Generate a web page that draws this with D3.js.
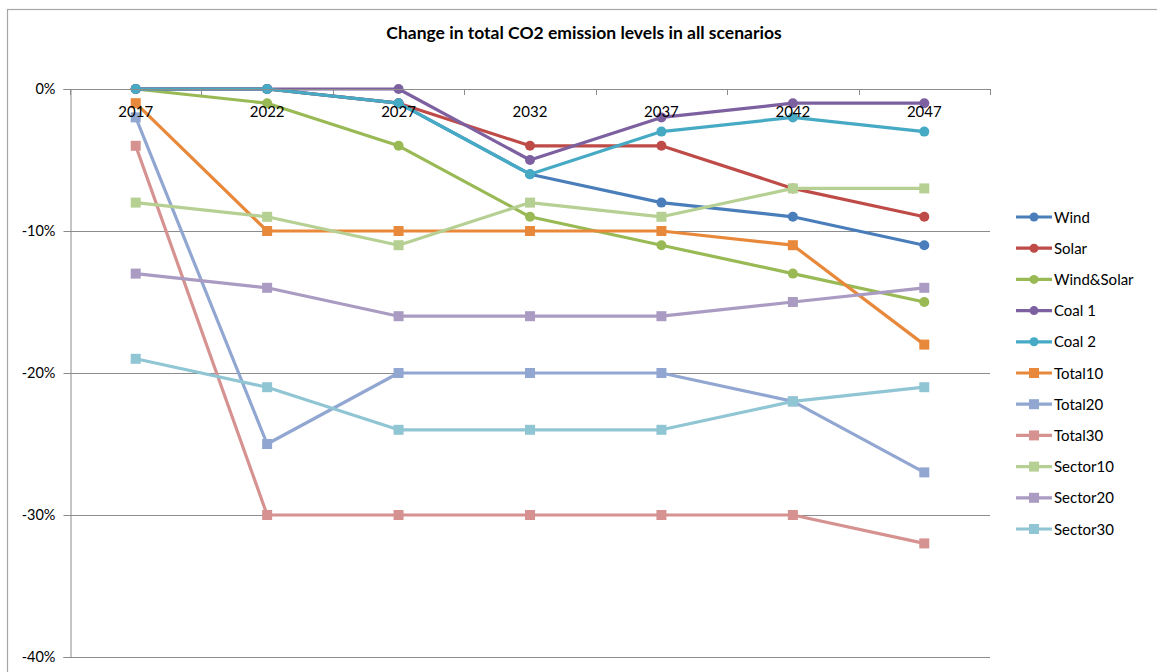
<!DOCTYPE html>
<html>
<head>
<meta charset="utf-8">
<script src="https://cdn.jsdelivr.net/npm/d3@7"></script>
<style>
  html, body { margin: 0; padding: 0; background: #fff; }
  svg { display: block; font-family: Lato, "Open Sans", sans-serif; }
</style>
</head>
<body>
<svg id="chart" width="1157" height="672"></svg>
<script>
// Scenario years and CO2 change (percent vs. baseline) per scenario
const years = ["2017", "2022", "2027", "2032", "2037", "2042", "2047"];
const yTicks = [0, -10, -20, -30, -40];

const wind       = [0, 0, -1, -6, -8, -9, -11];
const solar      = [0, 0, -1, -4, -4, -7, -9];
const windSolar  = [0, -1, -4, -9, -11, -13, -15];
const coal1      = [0, 0, 0, -5, -2, -1, -1];
const coal2      = [0, 0, -1, -6, -3, -2, -3];
const total10    = [-1, -10, -10, -10, -10, -11, -18];
const total20    = [-2, -25, -20, -20, -20, -22, -27];
const total30    = [-4, -30, -30, -30, -30, -30, -32];
const sector10   = [-8, -9, -11, -8, -9, -7, -7];
const sector20   = [-13, -14, -16, -16, -16, -15, -14];
const sector30   = [-19, -21, -24, -24, -24, -22, -21];

const seriesNames = ["Wind", "Solar", "Wind&Solar", "Coal 1", "Coal 2",
  "Total10", "Total20", "Total30", "Sector10", "Sector20", "Sector30"];
const seriesValues = [wind, solar, windSolar, coal1, coal2,
  total10, total20, total30, sector10, sector20, sector30];
const seriesColors = ["#4A7EBB", "#BE4B48", "#98B954", "#7D60A0", "#46AAC5",
  "#E8883A", "#91A7D1", "#D69290", "#B6D093", "#A99BC2", "#90C5D4"];
const seriesMarkers = ["circle", "circle", "circle", "circle", "circle",
  "square", "square", "square", "square", "square", "square"];

const series = seriesNames.map((name, i) => ({
  name, values: seriesValues[i], color: seriesColors[i], marker: seriesMarkers[i]
}));

const svg = d3.select("#chart");
const plot = { left: 70, right: 990, top: 89, bottom: 657 };

// Outer chart frame
svg.append("rect")
  .attr("x", 7.5).attr("y", 9.5)
  .attr("width", 1170).attr("height", 700)
  .attr("fill", "none").attr("stroke", "#a6a6a6").attr("stroke-width", 1.2);

svg.append("text")
  .attr("x", 584).attr("y", 39)
  .attr("text-anchor", "middle")
  .attr("font-size", 17.5).attr("font-weight", "bold").attr("fill", "#000")
  .text("Change in total CO2 emission levels in all scenarios");

const x = d3.scaleBand().domain(years).range([plot.left, plot.right]);
const y = d3.scaleLinear().domain([0, -40]).range([plot.top, plot.bottom]);
const cx = d => x(d) + x.bandwidth() / 2;

// Horizontal gridlines
svg.append("g").selectAll("line").data(yTicks.filter(t => t !== 0)).join("line")
  .attr("x1", plot.left).attr("x2", plot.right)
  .attr("y1", d => Math.round(y(d)) + 0.5).attr("y2", d => Math.round(y(d)) + 0.5)
  .attr("stroke", "#8c8c8c").attr("stroke-width", 1);

// Value axis
const yAxis = svg.append("g")
  .attr("transform", `translate(${plot.left + 0.5},0)`)
  .call(d3.axisLeft(y).tickValues(yTicks).tickSize(7).tickPadding(8)
    .tickFormat(d => d + "%"));
yAxis.select(".domain").attr("stroke", "#8c8c8c");
yAxis.selectAll(".tick line").attr("stroke", "#8c8c8c");
yAxis.selectAll("text").attr("font-size", 14.5).attr("fill", "#000")
  .attr("font-family", "Lato, sans-serif");

// Category axis sits on the 0% line; ticks at category boundaries point down
const xg = svg.append("g");
xg.append("line")
  .attr("x1", plot.left).attr("x2", plot.right)
  .attr("y1", y(0) + 0.5).attr("y2", y(0) + 0.5)
  .attr("stroke", "#8c8c8c");
const bounds = years.map(d => x(d)).concat([plot.right]);
xg.selectAll(".xt").data(bounds).join("line")
  .attr("x1", d => Math.round(d) + 0.5).attr("x2", d => Math.round(d) + 0.5)
  .attr("y1", y(0)).attr("y2", y(0) + 6)
  .attr("stroke", "#8c8c8c");

// Lines and markers
const line = d3.line().x((d, i) => cx(years[i])).y(d => y(d));
const gSeries = svg.append("g").selectAll("g").data(series).join("g");
gSeries.append("path")
  .attr("d", d => line(d.values))
  .attr("fill", "none").attr("stroke", d => d.color)
  .attr("stroke-width", 3.2).attr("stroke-linejoin", "round");
gSeries.each(function (s) {
  const g = d3.select(this);
  s.values.forEach((v, i) => {
    if (s.marker === "circle") {
      g.append("circle").attr("cx", cx(years[i])).attr("cy", y(v))
        .attr("r", 5).attr("fill", s.color);
    } else {
      g.append("rect").attr("x", cx(years[i]) - 5).attr("y", y(v) - 5)
        .attr("width", 10).attr("height", 10).attr("fill", s.color);
    }
  });
});

// Category labels drawn over the lines
xg.raise();
svg.append("g").selectAll("text").data(years).join("text")
  .attr("x", d => cx(d)).attr("y", y(0) + 28)
  .attr("text-anchor", "middle").attr("font-size", 15).attr("fill", "#000")
  .text(d => d);

// Legend
const legend = svg.append("g").selectAll("g").data(series).join("g")
  .attr("transform", (d, i) => `translate(1016,${217 + i * 31.2})`);
legend.append("line")
  .attr("x1", 0).attr("x2", 36).attr("y1", 0).attr("y2", 0)
  .attr("stroke", d => d.color).attr("stroke-width", 3.2);
legend.each(function (s) {
  const g = d3.select(this);
  if (s.marker === "circle") {
    g.append("circle").attr("cx", 18).attr("cy", 0).attr("r", 4.5).attr("fill", s.color);
  } else {
    g.append("rect").attr("x", 13).attr("y", -5).attr("width", 10).attr("height", 10)
      .attr("fill", s.color);
  }
});
legend.append("text")
  .attr("x", 38).attr("y", 5.5)
  .attr("font-size", 15).attr("fill", "#000")
  .text(d => d.name);
</script>
</body>
</html>
